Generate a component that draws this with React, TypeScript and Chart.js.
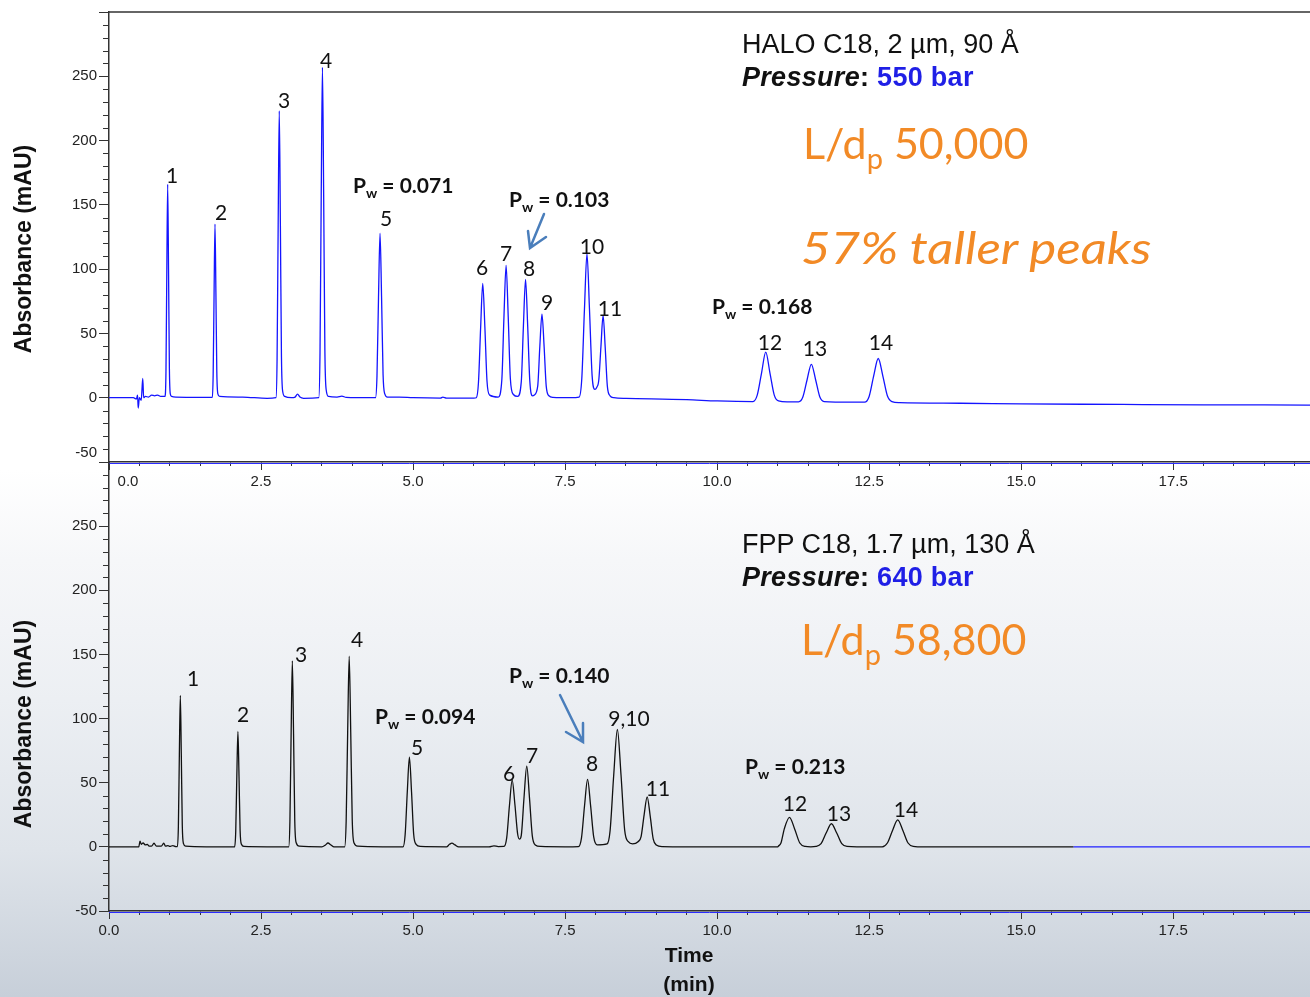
import React, { useEffect, useRef } from 'react';
import { Chart, registerables } from 'chart.js';
Chart.register(...registerables);

// ---------- DATA ----------
// Top chromatogram (HALO C18) – time (min) / absorbance (mAU)
const topTimes = [
  0.0, 0.4, 0.45, 0.47, 0.48, 0.5, 0.53, 0.555, 0.57, 0.6, 0.65, 0.7, 0.75, 0.8, 0.85, 0.92,
  0.937, 0.951, 0.965, 0.979, 0.993, 1.008, 1.03, 1.1, 1.5,
  1.7, 1.713, 1.728, 1.743, 1.758, 1.773, 1.79, 1.82, 2.2, 2.6,
  2.746, 2.764, 2.782, 2.8, 2.818, 2.836, 2.856, 2.89, 3.0, 3.06, 3.1, 3.14, 3.2,
  3.45, 3.47, 3.49, 3.51, 3.53, 3.55, 3.572, 3.61, 3.75, 3.83, 3.9, 4.3,
  4.382, 4.407, 4.432, 4.457, 4.482, 4.507, 4.535, 4.58, 4.77, 5.0, 5.45, 5.49, 5.55, 6.0,
  6.04, 6.076, 6.111, 6.146, 6.181, 6.216, 6.26,
  6.4, 6.46, 6.495, 6.53, 6.565, 6.6, 6.65,
  6.72, 6.78, 6.815, 6.85, 6.885, 6.92, 6.965,
  6.99, 7.05, 7.085, 7.12, 7.155, 7.19, 7.235, 7.3, 7.6,
  7.73, 7.775, 7.818, 7.86, 7.902, 7.945, 7.99,
  8.02, 8.055, 8.09, 8.125, 8.16, 8.195, 8.24, 8.3, 8.5, 9.5, 10.0,
  10.59, 10.66, 10.73, 10.8, 10.87, 10.94, 11.01, 11.15,
  11.34, 11.41, 11.48, 11.55, 11.62, 11.69, 11.76, 12.2,
  12.425, 12.5, 12.575, 12.65, 12.725, 12.8, 12.875, 13.0,
  14.0, 15.0, 16.0, 17.0, 18.0, 19.0, 19.8,
];
const topValues = [
  0, 0, -1, 2, -8, 0, -2, 15, 0, 1, 0.5, 2, 1.5, 2, 1, 1,
  21, 100, 166, 100, 23, 3, 1, 0.5, 0.3,
  0.3, 18, 81, 135, 82, 20, 3, 1, 0.5, -0.5,
  0, 30, 135, 223, 136, 32, 5, 1, 0, 0.5, 2.8, 0.5, -0.5,
  0, 35, 157, 257, 158, 37, 6, 1, 0.5, 1.2, 0.3, 0,
  0, 17, 78, 128, 79, 18, 3, 0.5, 0.4, 0, -0.3, 0.5, -0.3, -0.3,
  0, 12, 54, 89, 55, 13, 2,
  0.5, 14, 63, 103, 63, 15, 2.5,
  1, 12.5, 56, 92, 56, 13, 1.5,
  2, 9, 40, 65, 40, 9, 1.5, 0.3, 0,
  0.5, 15, 68, 112, 68, 17, 6.5,
  8, 14, 40, 64, 39, 9, 1.5, 0, -0.5, -1.5, -2.5,
  -3, 2, 19, 35.5, 19, 2, -2.5, -3.2,
  -3.2, 0.5, 14, 26, 14, 0.5, -3, -3.5,
  -3.5, 1, 17, 30.5, 17, 1.5, -3, -3.8,
  -4.3, -4.8, -5.1, -5.3, -5.5, -5.6, -5.7,
];

// Bottom chromatogram (FPP C18)
const bottomTimes = [
  0.0, 0.49, 0.51, 0.53, 0.56, 0.6, 0.63, 0.66, 0.7, 0.74, 0.78, 0.86, 0.9, 0.93, 0.97, 1.0, 1.05, 1.1,
  1.125, 1.141, 1.157, 1.173, 1.189, 1.205, 1.225, 1.26, 1.6,
  2.066, 2.084, 2.102, 2.12, 2.138, 2.156, 2.178, 2.22, 2.6,
  2.955, 2.975, 2.995, 3.015, 3.035, 3.055, 3.08, 3.13,
  3.5, 3.56, 3.6, 3.65, 3.7, 3.85,
  3.875, 3.9, 3.925, 3.95, 3.975, 4.0, 4.03, 4.09, 4.5,
  4.835, 4.87, 4.905, 4.94, 4.975, 5.01, 5.05, 5.12,
  5.55, 5.6, 5.64, 5.69, 5.75, 6.25, 6.33, 6.4,
  6.495, 6.54, 6.585, 6.63, 6.675, 6.72, 6.75,
  6.78, 6.825, 6.87, 6.915, 6.96, 7.01, 7.1, 7.5,
  7.72, 7.77, 7.82, 7.87, 7.92, 7.97, 8.03, 8.19,
  8.24, 8.3, 8.36, 8.42, 8.48, 8.54, 8.61,
  8.7, 8.75, 8.8, 8.85, 8.9, 8.95, 9.0, 9.1, 9.5, 11.0,
  11.005, 11.05, 11.105, 11.19, 11.275, 11.36, 11.45,
  11.54, 11.625, 11.71, 11.795, 11.88, 11.965, 12.05, 12.135, 12.3,
  12.715, 12.8, 12.885, 12.97, 13.055, 13.14, 13.225, 13.4, 14.5, 15.86,
];
const bottomValues = [
  0, 0, 4.5, 2, 3, 1.5, 2, 0.5, 0.5, 2.8, 0.5, 0.5, 2.8, 0.5, 1, 0.3, 1, 0.2,
  0.2, 16, 72, 118, 72, 17, 2.5, 0.5, 0,
  0, 12, 55, 90, 55, 13, 2, 0.3, 0,
  0, 20, 88, 145, 88, 20, 3, 0.5,
  0, 1.5, 3, 1.5, 0, 0,
  0, 20, 90, 148.6, 90, 21, 3, 0.5, 0,
  0, 9.5, 42.5, 70, 43, 10, 2, 0.3,
  0, 2, 2.9, 1.5, 0, 0, 0.8, 0.2,
  0.3, 7, 32, 52, 33, 10, 6,
  9, 38.5, 63, 38, 9, 1.5, 0.3, 0,
  0.2, 7, 32, 52.6, 32, 8, 1.5, 2.3,
  12.5, 56, 91.5, 56, 13, 4, 2.3,
  4, 8, 25, 39, 24, 6, 1.5, 0.2, 0, 0,
  0.4, 3, 14, 23, 14, 3, 0.3,
  0, 0.3, 2.5, 11, 18, 11, 2.5, 0.3, 0,
  0, 3, 12.8, 21, 12.8, 3, 0.4, 0, 0, 0,
];
// Bottom trace continues in blue after 15.86 min
const bottomTailTimes = [15.86, 17.0, 18.5, 19.8];
const bottomTailValues = [0, 0, 0, 0];

const xMajorTicks = [0, 2.5, 5, 7.5, 10, 12.5, 15, 17.5];
const yMajorTicks = [-50, 0, 50, 100, 150, 200, 250];

const X_MIN = 0;
const X_MAX = 19.75;
const Y_MIN = -50;
const Y_MAX = 300;

const topPeakLabels = ['1', '2', '3', '4', '5', '6', '7', '8', '9', '10', '11', '12', '13', '14'];
const bottomPeakLabels = ['1', '2', '3', '4', '5', '6', '7', '8', '9,10', '11', '12', '13', '14'];

// ---------- layout of annotations (pixels) ----------
const topLabelPos = [
  [172, 174], [221, 211], [284, 99], [326, 59], [386, 217], [482, 266], [506, 252],
  [529, 267], [547, 301], [592, 245], [610, 307], [770, 341], [815, 347], [881, 341],
];
const bottomLabelPos = [
  [193, 677], [243, 713], [301, 653], [357, 638], [417, 746], [509, 772], [532, 754],
  [592, 762], [629, 717], [658, 787], [795, 802], [839, 812], [906, 808],
];
const pwLabels = [
  { v: '0.071', x: 353, y: 184 },
  { v: '0.103', x: 509, y: 198 },
  { v: '0.168', x: 712, y: 305 },
  { v: '0.094', x: 375, y: 715 },
  { v: '0.140', x: 509, y: 674 },
  { v: '0.213', x: 745, y: 765 },
];

const AXIS_FONT = 'Liberation Sans, Arial, sans-serif';
const LABEL_FONT = 'Lato, Calibri, sans-serif';

const xMinorTicks: number[] = [];
for (let i = 0; i <= 39; i++) xMinorTicks.push(i * 0.5);
const yAllTicks: number[] = [];
for (let v = Y_MIN; v <= Y_MAX; v += 10) yAllTicks.push(v);

const isMajorX = (v: number) => xMajorTicks.some((m) => Math.abs(m - v) < 1e-6);
const isMajorY = (v: number) => Math.abs(v % 50) < 1e-6;

function decorPlugin(isTop: boolean) {
  return {
    id: 'decor' + (isTop ? 'Top' : 'Bottom'),
    afterDraw(chart: any) {
      const { ctx, chartArea: a } = chart;
      const ys = chart.scales.y;
      const xs = chart.scales.x;
      ctx.save();
      ctx.strokeStyle = '#333';
      ctx.lineWidth = 1;
      ctx.beginPath();
      yAllTicks.forEach((v) => {
        if (isMajorY(v)) return;
        const y = Math.round(ys.getPixelForValue(v)) + 0.5;
        ctx.moveTo(a.left - 6, y);
        ctx.lineTo(a.left, y);
      });
      ctx.stroke();
      ctx.beginPath();
      xMajorTicks.forEach((v) => {
        const x = Math.round(xs.getPixelForValue(v)) + 0.5;
        ctx.moveTo(x, a.bottom + 4);
        ctx.lineTo(x, a.bottom + 8);
      });
      ctx.stroke();
      ctx.strokeStyle = '#2b2bff';
      ctx.lineWidth = 1;
      ctx.beginPath();
      ctx.moveTo(a.left, a.bottom + 1.5);
      ctx.lineTo(a.right, a.bottom + 1.5);
      ctx.stroke();
      if (isTop) {
        ctx.strokeStyle = '#333';
        ctx.lineWidth = 1.5;
        ctx.beginPath();
        ctx.moveTo(a.left, a.top);
        ctx.lineTo(a.right, a.top);
        ctx.stroke();
        ctx.fillStyle = '#222';
        ctx.font = '15px ' + AXIS_FONT;
        ctx.textBaseline = 'middle';
        ctx.textAlign = 'center';
        ctx.fillText('0.0', xs.getPixelForValue(0) + 19, a.bottom + 20);
        ctx.textAlign = 'right';
        ctx.fillText('-50', a.left - 12, ys.getPixelForValue(-50) - 9);
      }
      ctx.restore();
    },
  };
}

function makeConfig(isTop: boolean): any {
  const datasets: any[] = isTop
    ? [{
        data: topTimes.map((t, i) => ({ x: t, y: topValues[i] })),
        borderColor: '#1414ff',
        borderWidth: 1.3,
      }]
    : [
        {
          data: bottomTimes.map((t, i) => ({ x: t, y: bottomValues[i] })),
          borderColor: '#111111',
          borderWidth: 1.3,
        },
        {
          data: bottomTailTimes.map((t, i) => ({ x: t, y: bottomTailValues[i] })),
          borderColor: '#2020ff',
          borderWidth: 1.2,
        },
      ];
  return {
    type: 'line',
    data: { datasets },
    options: {
      responsive: false,
      animation: false,
      events: [],
      layout: { padding: { top: isTop ? 12 : 22, left: 0, right: 0, bottom: 0 } },
      plugins: { legend: { display: false }, tooltip: { enabled: false } },
      elements: {
        point: { radius: 0 },
        line: { cubicInterpolationMode: 'monotone', fill: false },
      },
      scales: {
        x: {
          type: 'linear',
          min: X_MIN,
          max: X_MAX,
          afterBuildTicks: (s: any) => { s.ticks = xMinorTicks.map((v) => ({ value: v })); },
          afterFit: (s: any) => { s.height = isTop ? 38 : 86; },
          grid: { drawOnChartArea: false, drawTicks: true, tickLength: 4, tickColor: '#333', tickWidth: 1 },
          border: { display: true, color: '#333', width: 1.5 },
          ticks: {
            autoSkip: false,
            maxRotation: 0,
            padding: 7,
            color: '#222',
            font: { family: AXIS_FONT, size: 15 },
            callback: (v: number) => (isMajorX(v) && !(isTop && v === 0) ? v.toFixed(1) : ''),
          },
        },
        y: {
          type: 'linear',
          min: Y_MIN,
          max: Y_MAX,
          afterBuildTicks: (s: any) => { s.ticks = yAllTicks.map((v) => ({ value: v })); },
          afterFit: (s: any) => { s.width = 109; },
          grid: {
            drawOnChartArea: false,
            drawTicks: true,
            tickLength: 10,
            tickWidth: 1,
            tickColor: (c: any) => (c.tick && isMajorY(c.tick.value) ? '#333' : 'rgba(0,0,0,0)'),
          },
          border: { display: true, color: '#333', width: 1.5 },
          ticks: {
            autoSkip: false,
            padding: 2,
            color: '#222',
            font: { family: AXIS_FONT, size: 15 },
            callback: (v: number) =>
              yMajorTicks.includes(v) && !(isTop && v === -50) ? String(v) : '',
          },
        },
      },
    },
    plugins: [decorPlugin(isTop)],
  };
}

const abs = (extra: React.CSSProperties): React.CSSProperties => ({ position: 'absolute', whiteSpace: 'nowrap', ...extra });

function PeakLabel({ x, y, t }: { x: number; y: number; t: string }) {
  return (
    <div style={abs({ left: x, top: y, transform: 'translate(-50%,-50%)', font: '21px ' + LABEL_FONT, color: '#111', lineHeight: 1 })}>
      {t}
    </div>
  );
}

function Pw({ x, y, v }: { x: number; y: number; v: string }) {
  return (
    <div style={abs({ left: x, top: y, transform: 'translateY(-50%)', font: 'bold 21px ' + LABEL_FONT, color: '#111', lineHeight: 1 })}>
      P<span style={{ fontSize: 14, position: 'relative', top: 5 }}>w</span> = {v}
    </div>
  );
}

function Header({ y, title, pressure }: { y: number; title: string; pressure: string }) {
  return (
    <>
      <div style={abs({ left: 742, top: y, transform: 'translateY(-50%)', font: '27px ' + AXIS_FONT, color: '#111', lineHeight: 1 })}>{title}</div>
      <div style={abs({ left: 742, top: y + 33, transform: 'translateY(-50%)', font: 'bold 27px ' + AXIS_FONT, color: '#111', lineHeight: 1, letterSpacing: '0.3px' })}>
        <i>Pressure</i>: <span style={{ color: '#1f1fe6' }}>{pressure}</span>
      </div>
    </>
  );
}

function Ldp({ x, y, v }: { x: number; y: number; v: string }) {
  return (
    <div style={abs({ left: x, top: y, transform: 'translateY(-50%)', font: '43px ' + LABEL_FONT, color: '#f28a26', lineHeight: 1 })}>
      L/d<span style={{ fontSize: 29, position: 'relative', top: 10 }}>p</span> {v}
    </div>
  );
}

export default function App() {
  const topRef = useRef<HTMLCanvasElement>(null);
  const botRef = useRef<HTMLCanvasElement>(null);
  useEffect(() => {
    const c1 = new Chart(topRef.current as HTMLCanvasElement, makeConfig(true));
    const c2 = new Chart(botRef.current as HTMLCanvasElement, makeConfig(false));
    return () => { c1.destroy(); c2.destroy(); };
  }, []);
  return (
    <div style={{ position: 'absolute', left: 0, top: 0, width: 1310, height: 997, overflow: 'hidden',
      background: 'linear-gradient(to bottom, #ffffff 0px, #ffffff 470px, #f6f7f9 560px, #eceff3 700px, #dfe4ea 850px, #c7cfd9 997px)' }}>
      <canvas ref={topRef} width={1310} height={500} style={{ position: 'absolute', left: 0, top: 0, width: 1310, height: 500 }} />
      <canvas ref={botRef} width={1310} height={557} style={{ position: 'absolute', left: 0, top: 440, width: 1310, height: 557 }} />

      <div style={abs({ left: 23, top: 249, transform: 'translate(-50%,-50%) rotate(-90deg)', font: 'bold 23px ' + AXIS_FONT, color: '#111', lineHeight: 1 })}>Absorbance (mAU)</div>
      <div style={abs({ left: 23, top: 724, transform: 'translate(-50%,-50%) rotate(-90deg)', font: 'bold 23px ' + AXIS_FONT, color: '#111', lineHeight: 1 })}>Absorbance (mAU)</div>
      <div style={abs({ left: 689, top: 969, transform: 'translate(-50%,-50%)', font: 'bold 21px ' + AXIS_FONT, color: '#111', lineHeight: '29px', textAlign: 'center' })}>
        Time<br />(min)
      </div>

      {topPeakLabels.map((t, i) => <PeakLabel key={'t' + i} x={topLabelPos[i][0]} y={topLabelPos[i][1]} t={t} />)}
      {bottomPeakLabels.map((t, i) => <PeakLabel key={'b' + i} x={bottomLabelPos[i][0]} y={bottomLabelPos[i][1]} t={t} />)}
      {pwLabels.map((p, i) => <Pw key={'p' + i} x={p.x} y={p.y} v={p.v} />)}

      <svg width={1310} height={997} style={{ position: 'absolute', left: 0, top: 0 }}>
        <g stroke="#4a7ebb" strokeWidth={2.5} fill="none" strokeLinecap="round">
          <path d="M544 214 L530 248 M528 231 L530 248 L546 237" />
          <path d="M560 695 L583 742 M583 723 L583 742 L566 732" />
        </g>
      </svg>

      <Header y={44} title="HALO C18, 2 µm, 90 Å" pressure="550 bar" />
      <Ldp x={803} y={142} v="50,000" />
      <div style={abs({ left: 801, top: 247, transform: 'translateY(-50%) scaleX(1.16)', transformOrigin: 'left center', font: 'italic 44px ' + LABEL_FONT, color: '#f28a26', lineHeight: 1 })}>57% taller peaks</div>

      <Header y={544} title="FPP C18, 1.7 µm, 130 Å" pressure="640 bar" />
      <Ldp x={801} y={638} v="58,800" />
    </div>
  );
}
